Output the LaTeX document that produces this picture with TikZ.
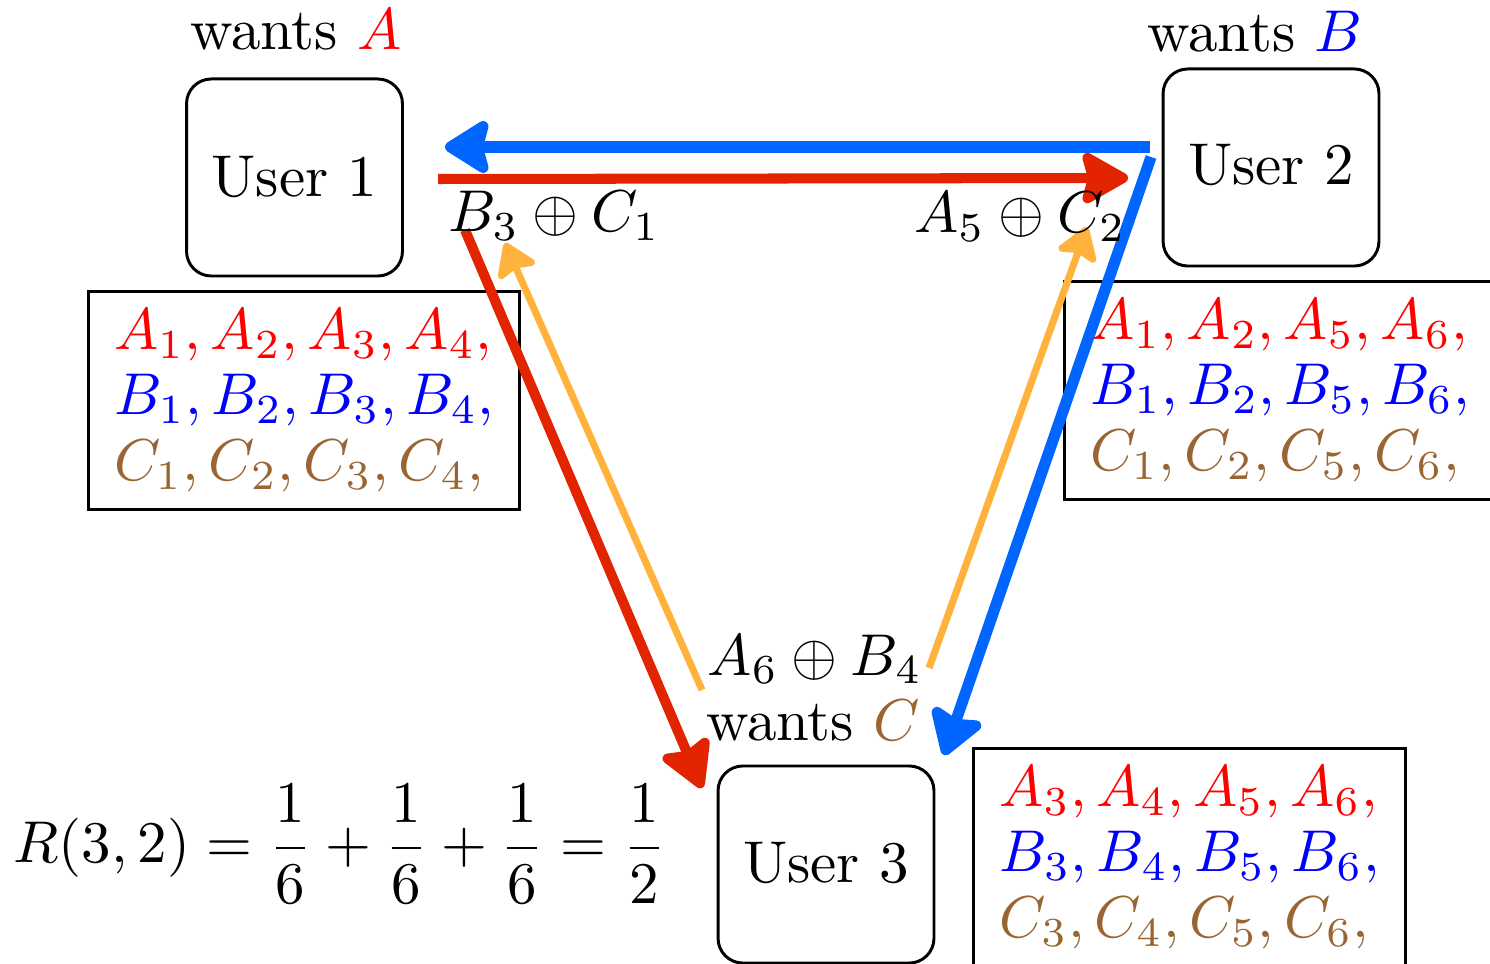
\documentclass[tikz,border=0pt]{standalone}
\usetikzlibrary{arrows.meta}
\definecolor{ared}{RGB}{226,36,0}
\definecolor{ablue}{RGB}{0,102,255}
\definecolor{aorange}{RGB}{255,178,60}
\definecolor{tred}{RGB}{255,0,0}
\definecolor{tblue}{RGB}{0,0,255}
\definecolor{tbrown}{RGB}{153,102,51}
\begin{document}
\begin{tikzpicture}[x=0.1695pt,y=-0.1695pt,
  userbox/.style={draw,line width=0.5pt,rounded corners=4.2pt,minimum width=36.6pt,minimum height=33.4pt,inner sep=0pt},
  storebox/.style={draw,line width=0.5pt,minimum width=73.2pt,minimum height=36.8pt,inner sep=0pt,align=left,font=\fontsize{10pt}{11.1pt}\selectfont},
  lbl/.style={inner sep=0pt,anchor=base},
  barrow/.style={ablue,line width=1.9pt,-{Stealth[length=8.6pt,width=10.6pt,inset=1.3pt,round]}},
  rarrow/.style={ared,line width=1.7pt,-{Stealth[length=9pt,width=10pt,inset=1.3pt,round]}},
  oarrow/.style={aorange,line width=1.2pt,-{Stealth[length=6.2pt,width=8pt,inset=1pt,round]}}]
\useasboundingbox (0,0) rectangle (1490,964);
\clip (0,0) rectangle (1490,964);
% user boxes
\node[userbox] (u1) at (294.5,177.5) {\raisebox{-1.4pt}{User 1}};
\node[userbox] (u2) at (1271,167.5) {\raisebox{0.9pt}{User 2}};
\node[userbox] (u3) at (826,864.5) {\raisebox{0.9pt}{User 3}};
% wants labels
\node[lbl] (w1) at (296,50) {wants $\color{tred}A$};
\node[lbl] (w2) at (1255,52) {wants $\color{tblue}B$};
\node[lbl] (w3) at (813,740) {wants $\color{tbrown}C$};
% storage boxes
\node[storebox] (s1) at (304,400.5) {$\color{tred}A_1,A_2,A_3,A_4,$\\ $\color{tblue}B_1,B_2,B_3,B_4,$\\ $\color{tbrown}C_1,C_2,C_3,C_4,$};
\node[storebox] (s2) at (1280,390.5) {$\color{tred}A_1,A_2,A_5,A_6,$\\ $\color{tblue}B_1,B_2,B_5,B_6,$\\ $\color{tbrown}C_1,C_2,C_5,C_6,$};
\node[storebox] (s3) at (1189.5,857.5) {$\color{tred}A_3,A_4,A_5,A_6,$\\ $\color{tblue}B_3,B_4,B_5,B_6,$\\ $\color{tbrown}C_3,C_4,C_5,C_6,$};
% arrow end points
\coordinate (bT) at (1150,147);
\coordinate (bH) at (445,147);
\coordinate (rT) at (438,179);
\coordinate (rH) at (1128,178);
\coordinate (rdT) at (465,230);
\coordinate (rdH) at (702,788);
\coordinate (olT) at (702,690);
\coordinate (olH) at (505,243);
\coordinate (orT) at (929,668);
\coordinate (orH) at (1087,227);
\coordinate (bdT) at (1151,157);
\coordinate (bdH) at (944,755);
% arrows
\draw[barrow] (bT) -- (bH);
\draw[rarrow] (rT) -- (rH);
\draw[oarrow] (olT) -- (olH);
\draw[oarrow] (orT) -- (orH);
\draw[rarrow] (rdT) -- (rdH);
\draw[barrow] (bdT) -- (bdH);
% transmitted labels
\node[lbl] (t1) at (554,232) {$B_3\oplus C_1$};
\node[lbl] (t2) at (1020,233) {$A_5\oplus C_2$};
\node[lbl] (t3) at (815,675) {$A_6\oplus B_4$};
% rate
\node[inner sep=0pt] (eq) at (340,844) {$\displaystyle R(3,2)=\frac{1}{6}+\frac{1}{6}+\frac{1}{6}=\frac{1}{2}$};
\end{tikzpicture}
\end{document}
